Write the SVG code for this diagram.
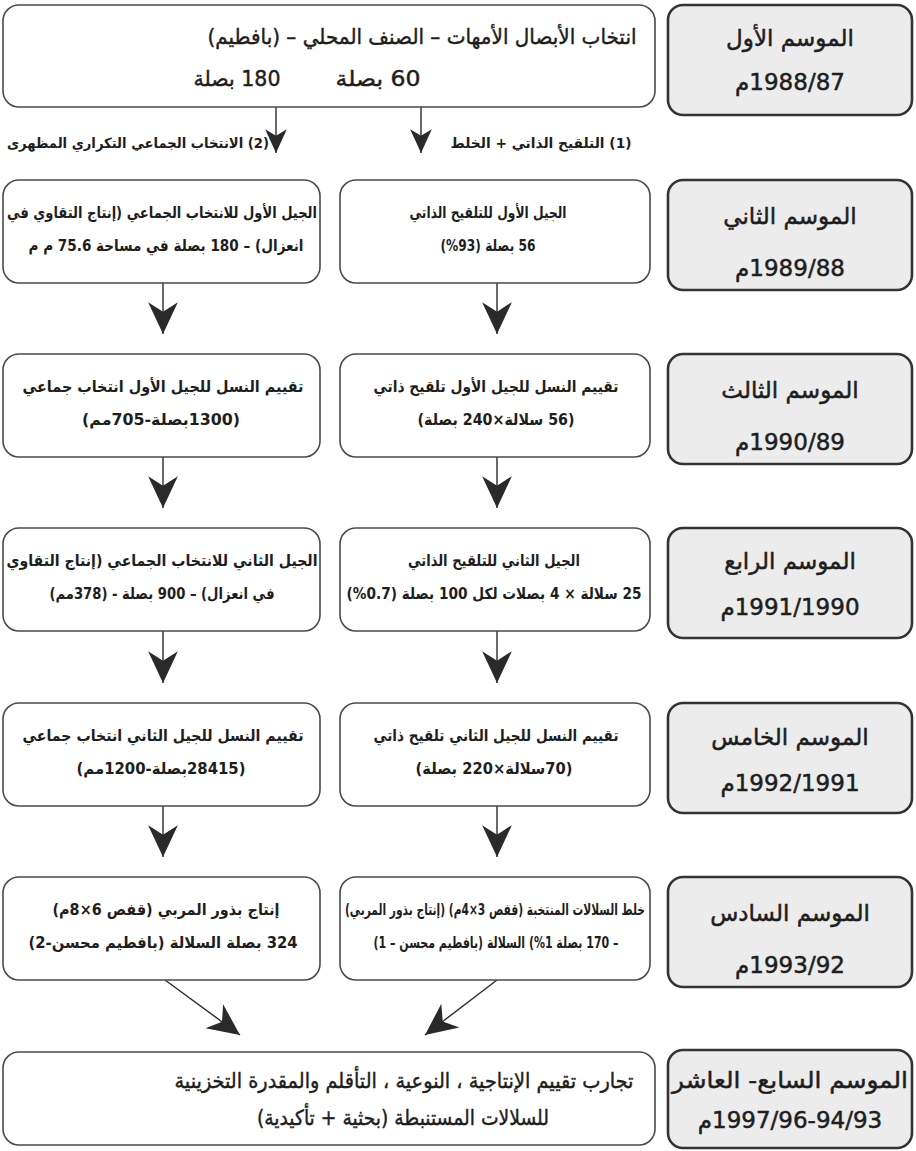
<svg xmlns="http://www.w3.org/2000/svg" width="916" height="1151" viewBox="0 0 916 1151">
<style>
  .box{fill:#ffffff;stroke:#4a4a4a;stroke-width:1.6}
  .season{fill:#ececec;stroke:#333333;stroke-width:2.6}
  text{font-family:"DejaVu Sans",sans-serif;fill:#1e1e1e;direction:rtl;text-anchor:middle}
  .t{font-size:15.5px;font-weight:bold}
  .big{font-size:21px;stroke:#1e1e1e;stroke-width:0.45}
  .s{font-size:23px;stroke:#1e1e1e;stroke-width:0.5}
  .lbl{font-size:14px;font-weight:bold}
  .conn{stroke:#2a2a2a;stroke-width:1.4;fill:none}
</style>
<defs>
  <marker id="ah" markerUnits="userSpaceOnUse" markerWidth="34" markerHeight="34" viewBox="0 -16 32 32" refX="30" refY="0" orient="auto">
    <path d="M0,-14 L30,0 L0,14 L9,0 Z" fill="#2a2a2a"/>
  </marker>
  <marker id="ahs" markerUnits="userSpaceOnUse" markerWidth="26" markerHeight="26" viewBox="0 -12 24 24" refX="22" refY="0" orient="auto">
    <path d="M0,-10 L22,0 L0,10 L6,0 Z" fill="#2a2a2a"/>
  </marker>
</defs>

<g id="connectors">
  <line class="conn" x1="276" y1="107" x2="276" y2="153" marker-end="url(#ahs)"/>
  <line class="conn" x1="421" y1="107" x2="421" y2="153" marker-end="url(#ahs)"/>
  <line class="conn" x1="163" y1="283" x2="163" y2="334" marker-end="url(#ah)"/>
  <line class="conn" x1="497" y1="283" x2="497" y2="334" marker-end="url(#ah)"/>
  <line class="conn" x1="163" y1="457" x2="163" y2="508" marker-end="url(#ah)"/>
  <line class="conn" x1="497" y1="457" x2="497" y2="508" marker-end="url(#ah)"/>
  <line class="conn" x1="163" y1="631" x2="163" y2="683" marker-end="url(#ah)"/>
  <line class="conn" x1="497" y1="631" x2="497" y2="683" marker-end="url(#ah)"/>
  <line class="conn" x1="163" y1="806" x2="163" y2="857" marker-end="url(#ah)"/>
  <line class="conn" x1="497" y1="806" x2="497" y2="857" marker-end="url(#ah)"/>
  <line class="conn" x1="165" y1="980" x2="240" y2="1035" marker-end="url(#ah)"/>
  <line class="conn" x1="497" y1="980" x2="425" y2="1035" marker-end="url(#ah)"/>
  <text class="lbl" x="138" y="148" textLength="262" lengthAdjust="spacingAndGlyphs">(2) الانتخاب الجماعي التكراري المظهرى</text>
  <text class="lbl" x="541" y="148" textLength="181" lengthAdjust="spacingAndGlyphs">(1) التلقيح الذاتي + الخلط</text>
</g>

<g id="n-top">
  <rect class="box" x="3" y="5" width="652" height="102" rx="16"/>
  <text class="big" x="422" y="44" textLength="429" lengthAdjust="spacingAndGlyphs">انتخاب الأبصال الأمهات – الصنف المحلي – (بافطيم)</text>
  <text class="big" x="237" y="86" textLength="87" lengthAdjust="spacingAndGlyphs">180 بصلة</text>
  <text class="big" x="378" y="86" textLength="85" lengthAdjust="spacingAndGlyphs">60 بصلة</text>
</g>
<g id="s1">
  <rect class="season" x="668" y="5" width="244" height="110" rx="15"/>
  <text class="s" x="790" y="46">الموسم الأول</text>
  <text class="s" x="790" y="90">1988/87م</text>
</g>

<g id="n2a">
  <rect class="box" x="3" y="180" width="317" height="103" rx="16"/>
  <text class="t" x="162" y="218" textLength="310" lengthAdjust="spacingAndGlyphs">الجيل الأول للانتخاب الجماعي (إنتاج التقاوي في</text>
  <text class="t" x="166" y="251" textLength="275" lengthAdjust="spacingAndGlyphs">انعزال) – 180 بصلة في مساحة 75.6 م م</text>
</g>
<g id="n2b">
  <rect class="box" x="340" y="180" width="310" height="103" rx="16"/>
  <text class="t" x="488" y="218" textLength="157" lengthAdjust="spacingAndGlyphs">الجيل الأول للتلقيح الذاتي</text>
  <text class="t" x="488" y="251" textLength="95" lengthAdjust="spacingAndGlyphs">56 بصلة (93%)</text>
</g>
<g id="s2">
  <rect class="season" x="668" y="180" width="244" height="110" rx="15"/>
  <text class="s" x="790" y="224">الموسم الثاني</text>
  <text class="s" x="790" y="276">1989/88م</text>
</g>

<g id="n3a">
  <rect class="box" x="3" y="354" width="317" height="103" rx="16"/>
  <text class="t" x="163" y="392" textLength="281" lengthAdjust="spacingAndGlyphs">تقييم النسل للجيل الأول انتخاب جماعي</text>
  <text class="t" x="161" y="425" textLength="158" lengthAdjust="spacingAndGlyphs">(1300بصلة-705مم)</text>
</g>
<g id="n3b">
  <rect class="box" x="340" y="354" width="310" height="103" rx="16"/>
  <text class="t" x="496" y="392" textLength="245" lengthAdjust="spacingAndGlyphs">تقييم النسل للجيل الأول تلقيح ذاتي</text>
  <text class="t" x="496" y="425" textLength="157" lengthAdjust="spacingAndGlyphs">(56 سلالة×240 بصلة)</text>
</g>
<g id="s3">
  <rect class="season" x="668" y="354" width="244" height="110" rx="15"/>
  <text class="s" x="790" y="398">الموسم الثالث</text>
  <text class="s" x="790" y="450">1990/89م</text>
</g>

<g id="n4a">
  <rect class="box" x="3" y="528" width="317" height="103" rx="16"/>
  <text class="t" x="162" y="566" textLength="311" lengthAdjust="spacingAndGlyphs">الجيل الثاني للانتخاب الجماعي (إنتاج التقاوي</text>
  <text class="t" x="162" y="599" textLength="225" lengthAdjust="spacingAndGlyphs">في انعزال) – 900 بصلة - (378مم)</text>
</g>
<g id="n4b">
  <rect class="box" x="340" y="528" width="310" height="103" rx="16"/>
  <text class="t" x="494" y="566" textLength="172" lengthAdjust="spacingAndGlyphs">الجيل الثاني للتلقيح الذاتي</text>
  <text class="t" x="494" y="599" textLength="295" lengthAdjust="spacingAndGlyphs">25 سلالة × 4 بصلات لكل 100 بصلة (0.7%)</text>
</g>
<g id="s4">
  <rect class="season" x="668" y="528" width="244" height="110" rx="15"/>
  <text class="s" x="790" y="569">الموسم الرابع</text>
  <text class="s" x="790" y="615">1991/1990م</text>
</g>

<g id="n5a">
  <rect class="box" x="3" y="703" width="317" height="103" rx="16"/>
  <text class="t" x="163" y="741" textLength="281" lengthAdjust="spacingAndGlyphs">تقييم النسل للجيل الثاني انتخاب جماعي</text>
  <text class="t" x="161" y="774" textLength="169" lengthAdjust="spacingAndGlyphs">(28415بصلة-1200مم)</text>
</g>
<g id="n5b">
  <rect class="box" x="340" y="703" width="310" height="103" rx="16"/>
  <text class="t" x="496" y="741" textLength="245" lengthAdjust="spacingAndGlyphs">تقييم النسل للجيل الثاني تلقيح ذاتي</text>
  <text class="t" x="494" y="774" textLength="157" lengthAdjust="spacingAndGlyphs">(70سلالة×220 بصلة)</text>
</g>
<g id="s5">
  <rect class="season" x="668" y="703" width="244" height="110" rx="15"/>
  <text class="s" x="790" y="745">الموسم الخامس</text>
  <text class="s" x="790" y="791">1992/1991م</text>
</g>

<g id="n6a">
  <rect class="box" x="3" y="877" width="317" height="103" rx="16"/>
  <text class="t" x="166" y="915" textLength="227" lengthAdjust="spacingAndGlyphs">إنتاج بذور المربي (قفص 6×8م)</text>
  <text class="t" x="163" y="948" textLength="269" lengthAdjust="spacingAndGlyphs">324 بصلة السلالة (بافطيم محسن-2)</text>
</g>
<g id="n6b">
  <rect class="box" x="340" y="877" width="310" height="103" rx="16"/>
  <text class="t" x="495" y="915" textLength="300" lengthAdjust="spacingAndGlyphs">خلط السلالات المنتخبة (قفص 3×4م) (إنتاج بذور المربي)</text>
  <text class="t" x="496" y="948" textLength="245" lengthAdjust="spacingAndGlyphs">– 170 بصلة 1%) السلالة (بافطيم محسن – 1)</text>
</g>
<g id="s6">
  <rect class="season" x="668" y="877" width="244" height="110" rx="15"/>
  <text class="s" x="790" y="921">الموسم السادس</text>
  <text class="s" x="790" y="973">1993/92م</text>
</g>

<g id="n7">
  <rect class="box" x="3" y="1052" width="652" height="93" rx="16"/>
  <text class="big" x="404" y="1088" textLength="459" lengthAdjust="spacingAndGlyphs">تجارب تقييم الإنتاجية ، النوعية ، التأقلم والمقدرة التخزينية</text>
  <text class="big" x="403" y="1125" textLength="292" lengthAdjust="spacingAndGlyphs">للسلالات المستنبطة (بحثية + تأكيدية)</text>
</g>
<g id="s7">
  <rect class="season" x="668" y="1050" width="244" height="98" rx="15"/>
  <text class="s" x="790" y="1088" textLength="236" lengthAdjust="spacingAndGlyphs">الموسم السابع- العاشر</text>
  <text class="s" x="790" y="1128">1997/96-94/93م</text>
</g>
</svg>
